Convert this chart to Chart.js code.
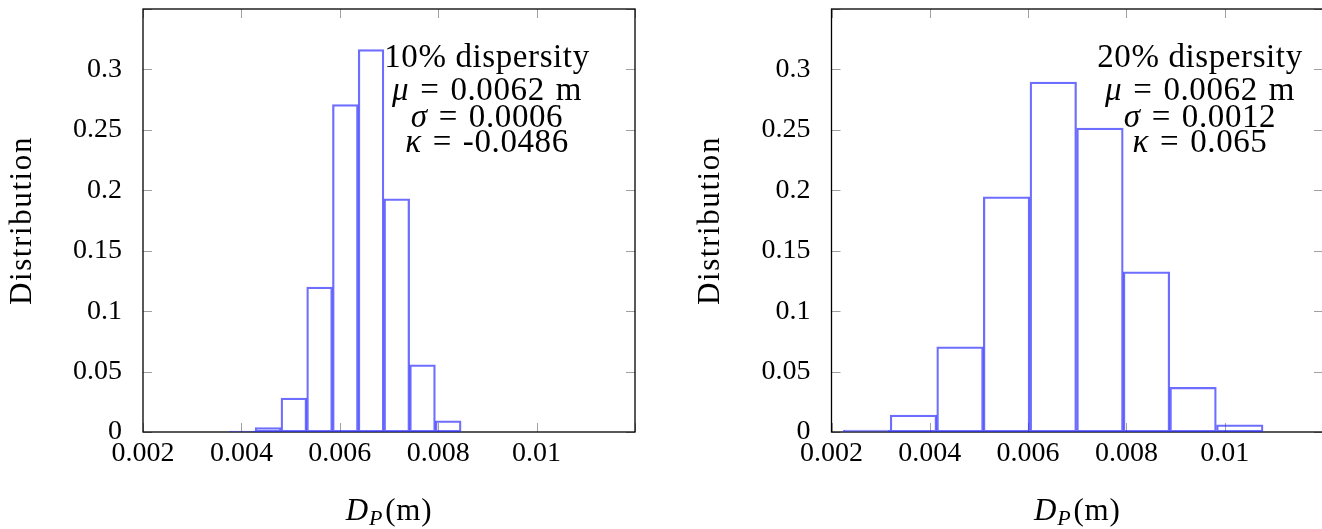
<!DOCTYPE html>
<html>
<head>
<meta charset="utf-8">
<script src="https://cdn.jsdelivr.net/npm/chart.js@4.4.1/dist/chart.umd.min.js"></script>
<style>
  html, body { margin: 0; padding: 0; background: #fff; }
  #wrap { position: relative; width: 1322px; height: 529px; overflow: hidden; }
  canvas { position: absolute; top: 0; }
  #left { left: 0; }
  #right { left: 661px; }
</style>
</head>
<body>
<div id="wrap">
  <canvas id="left" width="661" height="529"></canvas>
  <canvas id="right" width="662" height="529"></canvas>
</div>
<script>
// axes
const xTickValues = [0.002, 0.004, 0.006, 0.008, 0.01, 0.012];
const xTickLabels = ['0.002', '0.004', '0.006', '0.008', '0.01', ''];
const yTickValues = [0, 0.05, 0.1, 0.15, 0.2, 0.25, 0.3, 0.35];
const yTickLabels = ['0', '0.05', '0.1', '0.15', '0.2', '0.25', '0.3', ''];

// 10% dispersity histogram (bin centres, m)
const bins10 = [0.00402, 0.004543, 0.005066, 0.005589, 0.006112, 0.006635, 0.007158, 0.007681, 0.008204];
const dist10 = [0.0008, 0.0036, 0.028, 0.120, 0.271, 0.3165, 0.193, 0.0556, 0.0093];
const title10 = '10% dispersity';
const stats10 = [['μ', '0.0062', 'm'], ['σ', '0.0006'], ['κ', '-0.0486']];

// 20% dispersity histogram
const bins20 = [0.002716, 0.003667, 0.004615, 0.005562, 0.006512, 0.007462, 0.008409, 0.009356, 0.010307];
const dist20 = [0.0015, 0.014, 0.0705, 0.1945, 0.2895, 0.2515, 0.1325, 0.037, 0.006];
const title20 = '20% dispersity';
const stats20 = [['μ', '0.0062', 'm'], ['σ', '0.0012'], ['κ', '0.065']];

const FONT = '"Liberation Serif", "Times New Roman", serif';
const BAR = 'rgba(40, 40, 255, 0.68)';

function drawTokens(ctx, tokens, cx, y, gap) {
    // tokens: [text, italic]
    const widths = tokens.map(t => {
        ctx.font = (t[1] ? 'italic ' : '') + '33px ' + FONT;
        return ctx.measureText(t[0]).width;
    });
    const total = widths.reduce((a, b) => a + b, 0) + gap * (tokens.length - 1);
    let x = cx - total / 2;
    tokens.forEach((t, i) => {
        ctx.font = (t[1] ? 'italic ' : '') + '33px ' + FONT;
        ctx.fillText(t[0], x, y);
        x += widths[i] + gap;
    });
}

function makeChart(id, bins, dist, title, stats, box) {
    const points = bins.map((b, i) => ({ x: b, y: dist[i] }));

    const decor = {
        id: 'decor',
        beforeDatasetsDraw(chart) {
            const { ctx, chartArea: a, scales: { x, y } } = chart;
            ctx.save();
            // inner tick marks on all four sides
            ctx.strokeStyle = '#a0a0a0';
            ctx.lineWidth = 1;
            ctx.beginPath();
            xTickValues.forEach(v => {
                const px = Math.round(x.getPixelForValue(v)) + 0.5;
                ctx.moveTo(px, a.bottom); ctx.lineTo(px, a.bottom - 9);
                ctx.moveTo(px, a.top); ctx.lineTo(px, a.top + 9);
            });
            yTickValues.forEach(v => {
                const py = Math.round(y.getPixelForValue(v)) + 0.5;
                ctx.moveTo(a.left, py); ctx.lineTo(a.left + 9, py);
                ctx.moveTo(a.right, py); ctx.lineTo(a.right - 9, py);
            });
            ctx.stroke();
            // frame
            ctx.strokeStyle = '#000';
            ctx.lineWidth = 1.3;
            ctx.strokeRect(a.left, a.top, a.right - a.left, a.bottom - a.top);
            ctx.restore();
        },
        afterDraw(chart) {
            const { ctx, chartArea: a } = chart;
            ctx.save();
            ctx.fillStyle = '#000';
            ctx.textBaseline = 'alphabetic';
            ctx.letterSpacing = '0.6px';

            // annotation
            ctx.textAlign = 'left';
            drawTokens(ctx, [[title, false]], box.noteX, 67, 0);
            const baselines = [100, 127, 152];
            stats.forEach((s, i) => {
                const toks = [[s[0], true], ['=', false], [s[1], false]];
                if (s[2]) toks.push([s[2], false]);
                drawTokens(ctx, toks, box.noteX, baselines[i], 11);
            });

            // y title
            ctx.save();
            ctx.letterSpacing = '1.6px';
            ctx.translate(box.yTitleX, (a.top + a.bottom) / 2);
            ctx.rotate(-Math.PI / 2);
            ctx.font = '31px ' + FONT;
            ctx.textAlign = 'center';
            ctx.textBaseline = 'middle';
            ctx.fillText('Distribution', 0, 0);
            ctx.restore();

            // x title D_P(m)
            ctx.letterSpacing = '0.8px';
            ctx.textAlign = 'left';
            ctx.font = 'italic 31px ' + FONT;
            const wD = ctx.measureText('D').width;
            ctx.font = 'italic 22px ' + FONT;
            const wP = ctx.measureText('P').width;
            ctx.font = '31px ' + FONT;
            const wM = ctx.measureText('(m)').width;
            let xx = (a.left + a.right) / 2 - (wD + wP + wM + 2) / 2;
            const yy = 520;
            ctx.font = 'italic 31px ' + FONT;
            ctx.fillText('D', xx, yy);
            xx += wD;
            ctx.font = 'italic 22px ' + FONT;
            ctx.fillText('P', xx, yy + 5);
            xx += wP + 2;
            ctx.font = '31px ' + FONT;
            ctx.fillText('(m)', xx, yy);
            ctx.restore();
        }
    };

    return new Chart(document.getElementById(id), {
        type: 'bar',
        data: {
            datasets: [{
                data: points,
                backgroundColor: 'rgba(0,0,0,0)',
                borderColor: BAR,
                borderWidth: 1.6,
                borderSkipped: false,
                barPercentage: 1,
                categoryPercentage: 1
            }]
        },
        options: {
            responsive: false,
            animation: false,
            layout: { padding: { top: 9, right: box.padRight, left: 0, bottom: 0 } },
            plugins: { legend: { display: false }, tooltip: { enabled: false } },
            scales: {
                x: {
                    type: 'linear',
                    min: 0.002,
                    max: 0.012,
                    offset: false,
                    grid: { display: false },
                    border: { display: false },
                    afterBuildTicks: s => { s.ticks = xTickValues.map(v => ({ value: v })); },
                    afterFit: s => {
                        s.height = 97;
                        s.paddingLeft = 0; s.paddingRight = 0; s.paddingTop = 0; s.paddingBottom = 0;
                    },
                    ticks: {
                        autoSkip: false,
                        maxRotation: 0,
                        padding: -3,
                        color: '#000',
                        font: { family: FONT, size: 28 },
                        callback: (v, i) => xTickLabels[i]
                    }
                },
                y: {
                    min: 0,
                    max: 0.35,
                    grid: { display: false },
                    border: { display: false },
                    afterBuildTicks: s => { s.ticks = yTickValues.map(v => ({ value: v })); },
                    afterFit: s => {
                        s.width = box.yWidth;
                        s.paddingLeft = 0; s.paddingRight = 0; s.paddingTop = 0; s.paddingBottom = 0;
                    },
                    ticks: {
                        autoSkip: false,
                        padding: 13,
                        color: '#000',
                        font: { family: FONT, size: 28 },
                        callback: (v, i) => yTickLabels[i]
                    }
                }
            }
        },
        plugins: [decor]
    });
}

makeChart('left', bins10, dist10, title10, stats10,
    { yWidth: 143, padRight: 26, noteX: 487, yTitleX: 22.5 });
makeChart('right', bins20, dist20, title20, stats20,
    { yWidth: 170.5, padRight: 0, noteX: 539, yTitleX: 50 });
</script>
</body>
</html>
